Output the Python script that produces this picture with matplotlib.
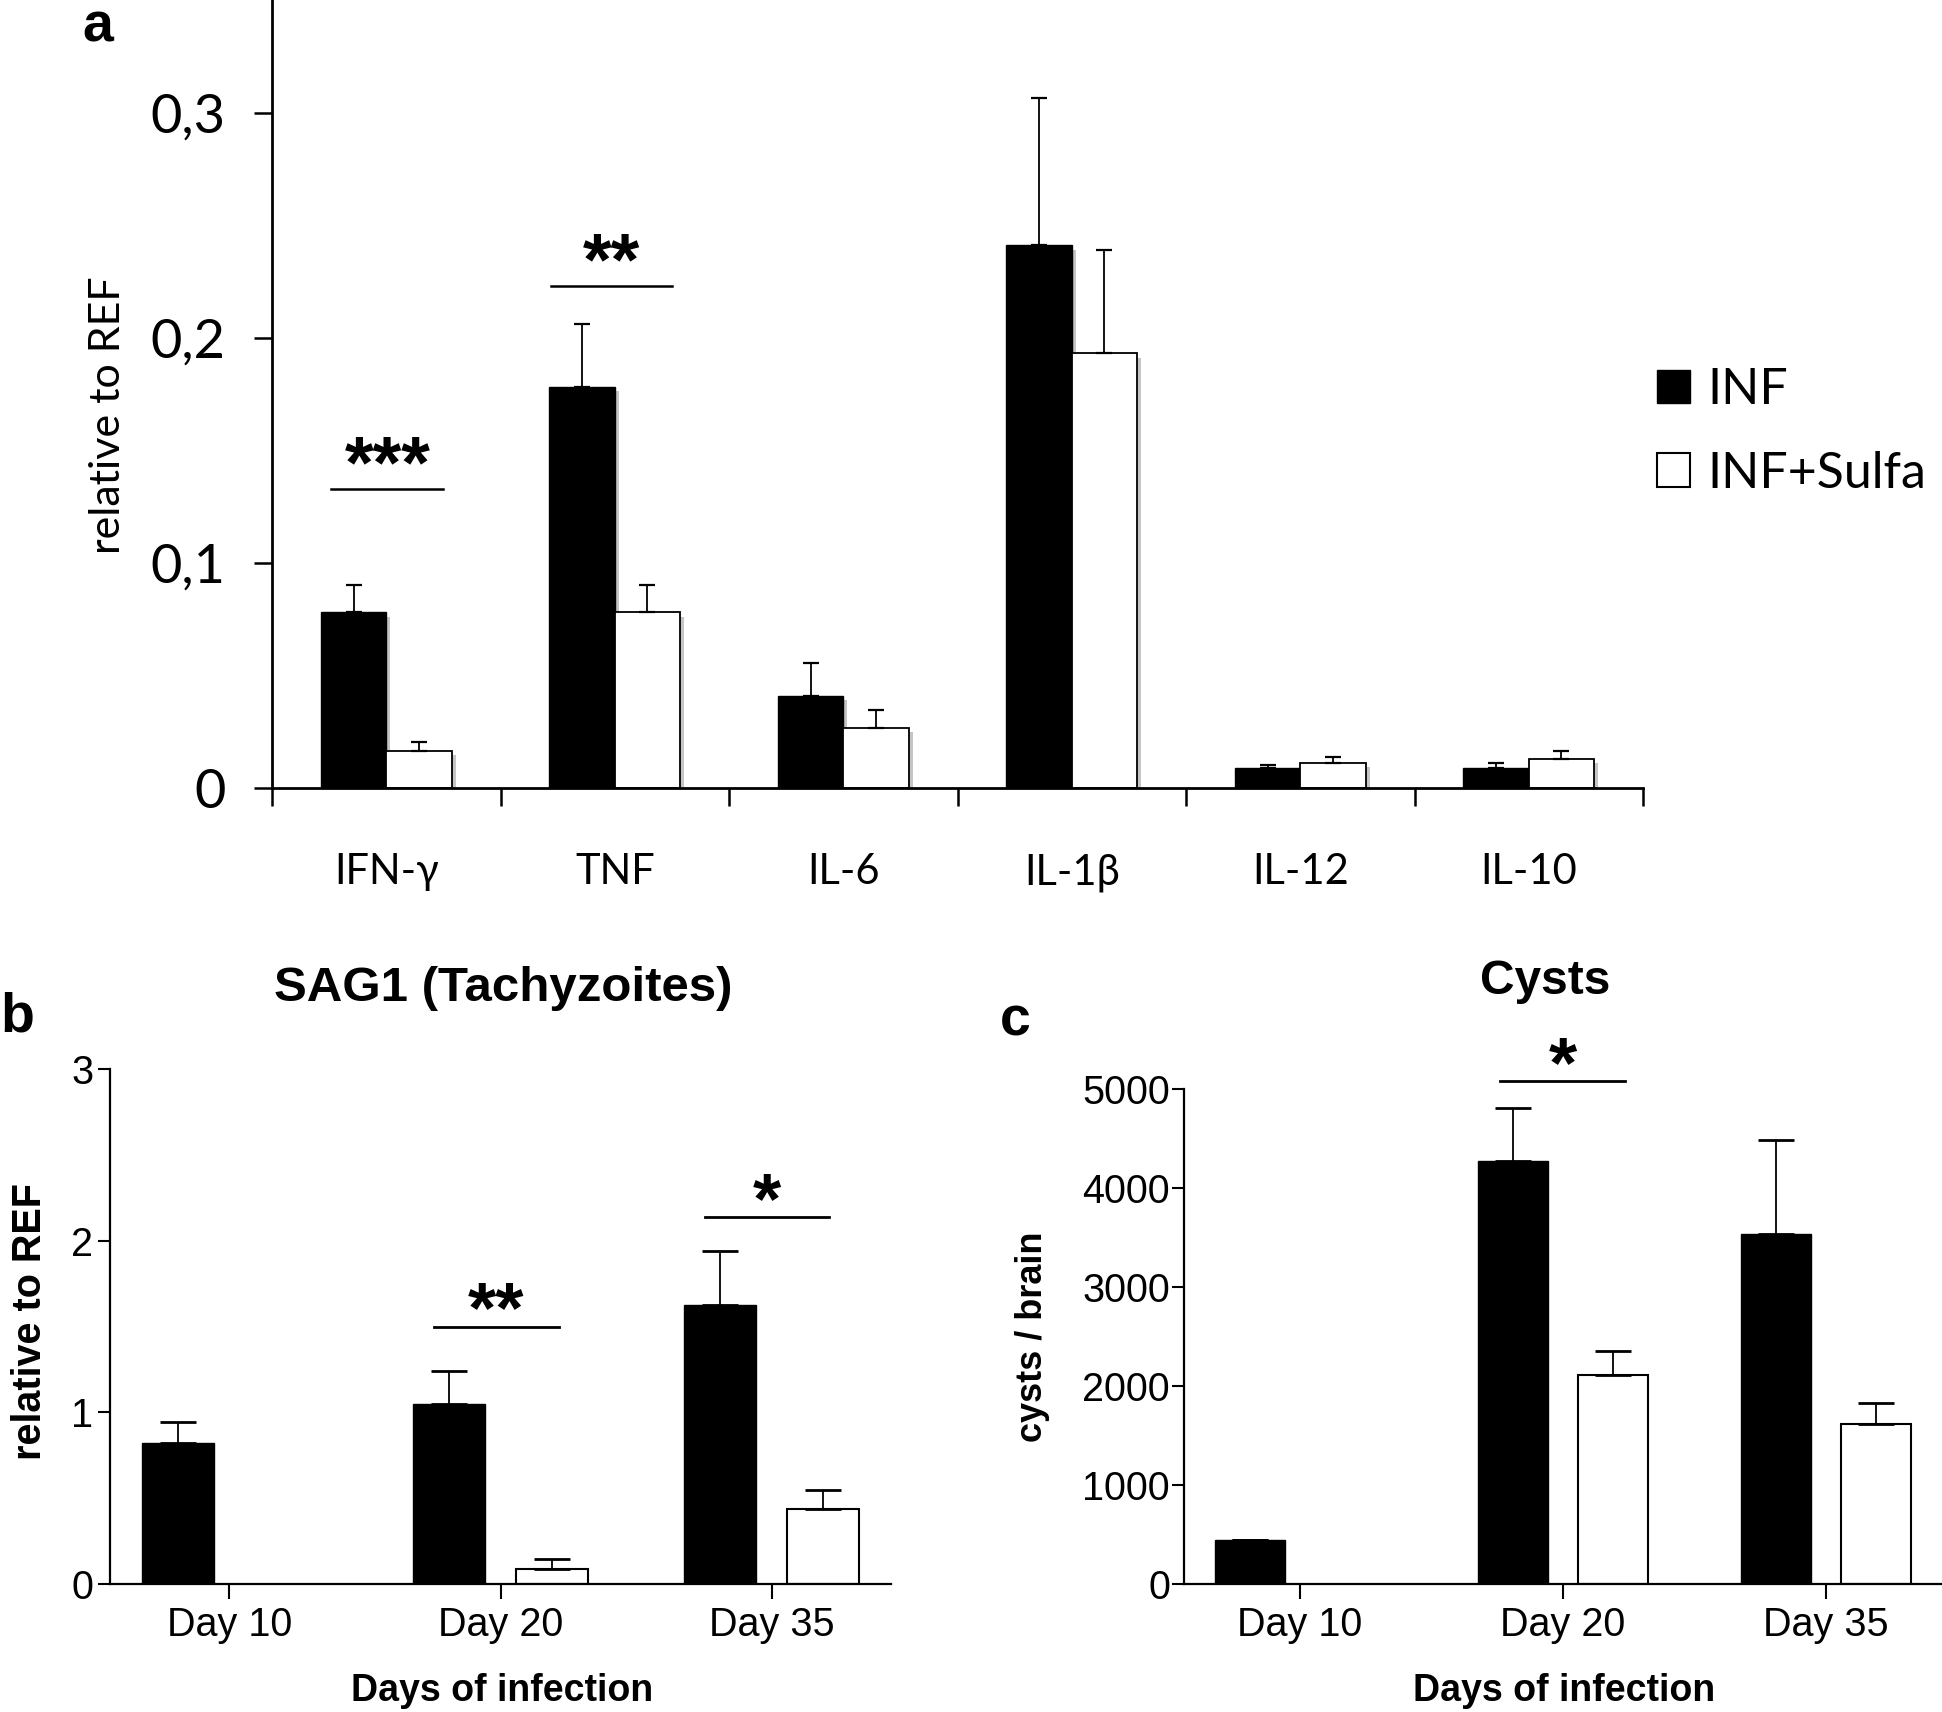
import numpy as np
import matplotlib
matplotlib.use("Agg")
import matplotlib.pyplot as plt
from matplotlib import patheffects
from matplotlib.patches import Patch
from matplotlib.transforms import offset_copy

# ---------------- data ----------------
a_categories = ['IFN-γ', 'TNF', 'IL-6', 'IL-1β', 'IL-12', 'IL-10']
a_inf = [0.078, 0.178, 0.041, 0.241, 0.009, 0.009]
a_inf_err = [0.012, 0.028, 0.0145, 0.0655, 0.0013, 0.0023]
a_sulfa = [0.0166, 0.078, 0.0266, 0.193, 0.0112, 0.0128]
a_sulfa_err = [0.0038, 0.012, 0.008, 0.046, 0.0026, 0.0038]
a_yticks = [0, 0.1, 0.2, 0.3]
a_yticklabels = ['0', '0,1', '0,2', '0,3']
a_sig = [(0, '***', 0.133, -0.24, 0.25), (1, '**', 0.223, -0.28, 0.25)]

days = ['Day 10', 'Day 20', 'Day 35']
b_inf = [0.82, 1.047, 1.623]
b_inf_err = [0.121, 0.192, 0.318]
b_sulfa = [np.nan, 0.086, 0.439]
b_sulfa_err = [np.nan, 0.06, 0.106]
b_sig = [(1, '**', 1.50, 0.755, 1.215), (2, '*', 2.136, 1.754, 2.212)]

c_inf = [448, 4269, 3532]
c_inf_err = [0, 542, 956]
c_sulfa = [np.nan, 2114, 1612]
c_sulfa_err = [np.nan, 239, 214]
c_sig = [(1, '*', 5080, 0.76, 1.236)]

series_names = ['INF', 'INF+Sulfa']

# ---------------- fonts ----------------
FA = ['Lato', 'Open Sans', 'DejaVu Sans']          # Calibri-like panel a
FB = ['Liberation Sans', 'DejaVu Sans']            # Arial-like panels b, c

W, H = 1942, 1712
fig = plt.figure(figsize=(W / 100, H / 100), dpi=100)
fig.patch.set_facecolor('white')

def fx(px):
    return px / W

def fy(py):
    return 1 - py / H

# ================= panel a =================
axa = fig.add_axes([fx(272), fy(788), fx(1643 - 272), 788 / H])
x = np.arange(len(a_categories))
bw = 0.286
shadow = [patheffects.SimplePatchShadow(offset=(3, -3), shadow_rgbFace='0.55', alpha=0.5),
          patheffects.Normal()]
bars1 = axa.bar(x - bw / 2, a_inf, bw, color='black', edgecolor='black', linewidth=1.0, zorder=2)
bars2 = axa.bar(x + bw / 2, a_sulfa, bw, color='white', edgecolor='black', linewidth=1.3, zorder=2)
for b in list(bars1) + list(bars2):
    b.set_path_effects(shadow)
axa.errorbar(x - bw / 2, a_inf, yerr=[np.zeros(len(x)), a_inf_err], fmt='none',
             ecolor='black', elinewidth=1.3, capsize=6, capthick=1.6, zorder=3)
axa.errorbar(x + bw / 2, a_sulfa, yerr=[np.zeros(len(x)), a_sulfa_err], fmt='none',
             ecolor='black', elinewidth=1.3, capsize=6, capthick=1.6, zorder=3)
axa.set_xlim(-0.5, len(x) - 0.5)
axa.set_ylim(0, 0.35)
for s in ['top', 'right']:
    axa.spines[s].set_visible(False)
for s in ['left', 'bottom']:
    axa.spines[s].set_linewidth(2.0)
axa.set_xticks(np.arange(-0.5, len(x)), labels=[''] * (len(x) + 1))
axa.tick_params(axis='x', which='major', direction='out', length=13, width=1.8)
axa.set_xticks(x, labels=a_categories, minor=True)
axa.tick_params(axis='x', which='minor', length=0, pad=47, labelsize=30)
for t in axa.get_xticklabels(minor=True):
    t.set_fontfamily(FA)
axa.set_yticks(a_yticks, labels=a_yticklabels)
axa.tick_params(axis='y', direction='out', length=13, width=1.8, pad=20.5, labelsize=39)
for t in axa.get_yticklabels():
    t.set_fontfamily(FA)
axa.set_ylabel('relative to REF', fontsize=31, family=FA, va='center')
axa.yaxis.set_label_coords(-0.1196, 0.4734)
for (i, txt, yl, x0, x1) in a_sig:
    axa.plot([i + x0, i + x1], [yl, yl], color='black', lw=1.8, zorder=3, clip_on=False)
    tr = offset_copy(axa.transData, fig=fig, x=0, y=1, units='points')
    axa.text(i + (x0 + x1) / 2, yl, txt, transform=tr, ha='center', va='baseline',
             fontsize=53, fontweight='bold', family=FB)
handles = [Patch(facecolor='black', edgecolor='black', label=series_names[0]),
           Patch(facecolor='white', edgecolor='black', linewidth=1.5, label=series_names[1])]
axa.legend(handles=handles, loc='upper left', bbox_to_anchor=(fx(1657), fy(367)),
           bbox_transform=fig.transFigure, frameon=False, prop={'family': FA, 'size': 36},
           handlelength=0.66, handleheight=0.66, handletextpad=0.35, labelspacing=0.75,
           borderpad=0, borderaxespad=0)
fig.text(fx(82), fy(2), 'a', fontsize=40, fontweight='bold', family=FB, ha='left', va='top')

# ================= panels b, c =================
def day_panel(rect, inf, inf_err, sulfa, sulfa_err, ylim, yticks, title, ylabel,
              title_xy, xlabel_xy, ylabel_xy, sig, ypad, title_size, ylabel_size):
    ax = fig.add_axes(rect)
    xd = np.arange(len(days))
    w = 0.265
    off = 0.19
    ax.bar(xd - off, inf, w, color='black', edgecolor='black', linewidth=1.0, zorder=2)
    ax.bar(xd + off, sulfa, w, color='white', edgecolor='black', linewidth=1.5, zorder=2)
    ax.errorbar(xd - off, inf, yerr=[np.zeros(len(xd)), inf_err], fmt='none', ecolor='black',
                elinewidth=1.3, capsize=13, capthick=2.0, zorder=3)
    ax.errorbar(xd + off, sulfa, yerr=[np.zeros(len(xd)), sulfa_err], fmt='none', ecolor='black',
                elinewidth=1.3, capsize=13, capthick=2.0, zorder=3)
    ax.set_xlim(-0.44, len(xd) - 1 + 0.44)
    ax.set_ylim(*ylim)
    for s in ['top', 'right']:
        ax.spines[s].set_visible(False)
    for s in ['left', 'bottom']:
        ax.spines[s].set_linewidth(1.6)
    ax.set_xticks(xd, labels=days)
    ax.tick_params(axis='x', direction='out', length=11, width=1.5, pad=5, labelsize=28.5)
    ax.set_yticks(yticks)
    ax.tick_params(axis='y', direction='out', length=9, width=1.5, pad=ypad, labelsize=28.5)
    for t in ax.get_xticklabels() + ax.get_yticklabels():
        t.set_fontfamily(FB)
    ax.set_title(title, fontsize=title_size, fontweight='bold', family=FB,
                 x=title_xy[0], y=title_xy[1], va='center')
    ax.set_xlabel('Days of infection', fontsize=27, fontweight='bold', family=FB, va='center')
    ax.xaxis.set_label_coords(*xlabel_xy)
    ax.set_ylabel(ylabel, fontsize=ylabel_size, fontweight='bold', family=FB, va='center')
    ax.yaxis.set_label_coords(*ylabel_xy)
    for (i, txt, yl, x0, x1) in sig:
        ax.plot([x0, x1], [yl, yl], color='black', lw=2.0, zorder=3, clip_on=False)
        tr = offset_copy(ax.transData, fig=fig, x=0, y=-4, units='points')
        ax.text((x0 + x1) / 2, yl, txt, transform=tr, ha='center', va='baseline',
                fontsize=52, fontweight='bold', family=FB, clip_on=False)
    return ax

axb = day_panel([fx(110), fy(1584), fx(891 - 110), 515 / H], b_inf, b_inf_err, b_sulfa, b_sulfa_err,
                (0, 3), [0, 1, 2, 3], 'SAG1 (Tachyzoites)', 'relative to REF',
                (0.503, 1.1396), (0.502, -0.2078), (-0.1024, 0.51), b_sig, 3, 35.5, 28.5)
axc = day_panel([fx(1184), fy(1584), fx(1942 - 1184), 495 / H], c_inf, c_inf_err, c_sulfa, c_sulfa_err,
                (0, 5000), [0, 1000, 2000, 3000, 4000, 5000], 'Cysts', 'cysts / brain',
                (0.4763, 1.2), (0.5013, -0.2162), (-0.2005, 0.499), c_sig, 1, 34.5, 26)

fig.text(fx(0), fy(1031), 'b', fontsize=40, fontweight='bold', family=FB, ha='left', va='baseline')
fig.text(fx(1000), fy(1036), 'c', fontsize=40, fontweight='bold', family=FB, ha='left', va='baseline')

fig.savefig('out.png', dpi=100, facecolor='white')
